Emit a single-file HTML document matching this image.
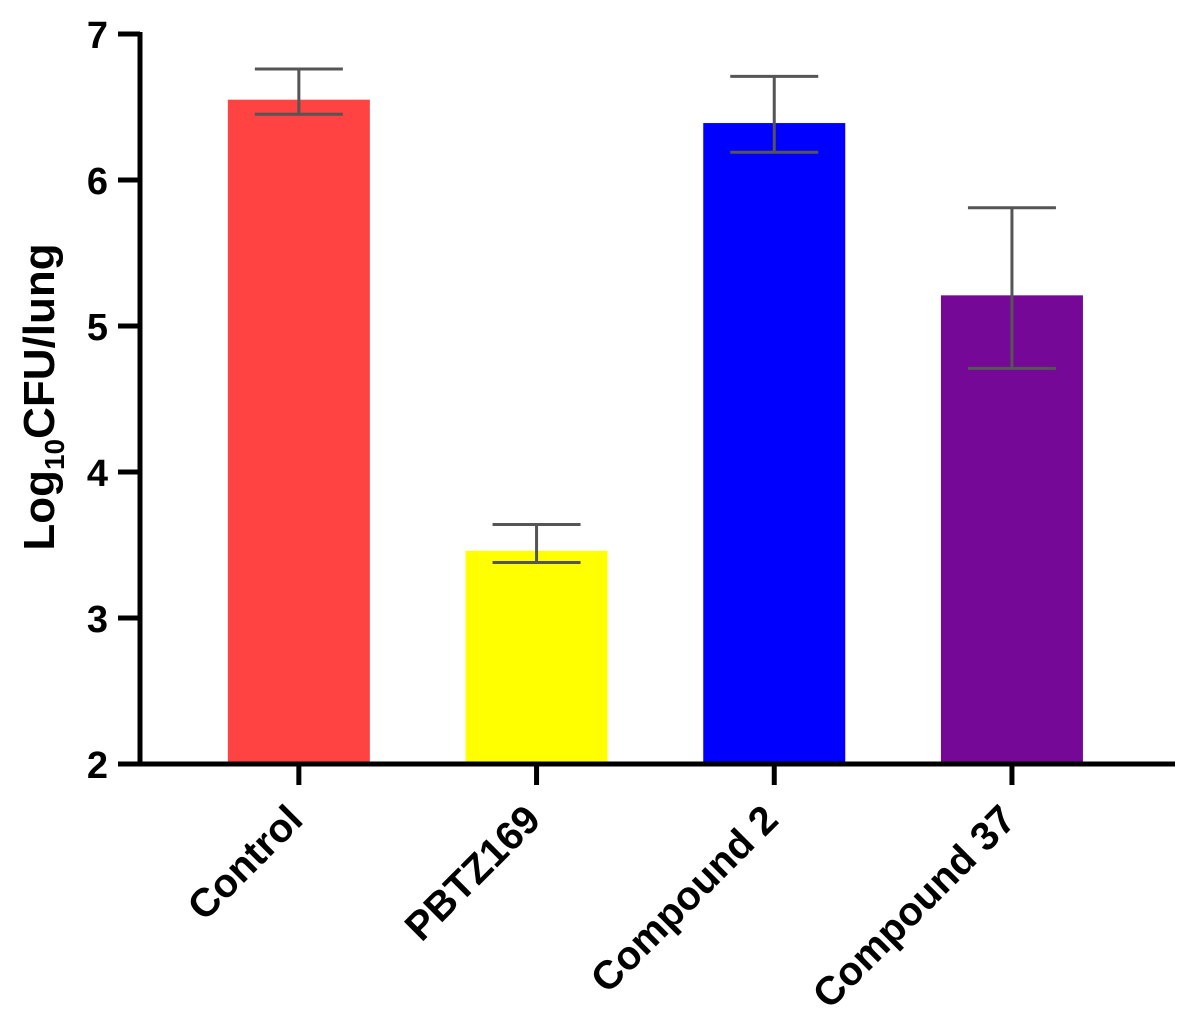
<!DOCTYPE html>
<html><head><meta charset="utf-8"><style>
body{margin:0;background:#fff;width:1191px;height:1030px;overflow:hidden}
text{font-family:"Liberation Sans",Arial,sans-serif;font-weight:bold;fill:#000}
</style></head><body>
<svg id="chart" width="1191" height="1030" xmlns="http://www.w3.org/2000/svg"></svg>
<script>
const categories=["Control","PBTZ169","Compound 2","Compound 37"];
const values=[6.55,3.46,6.39,5.21];
const errLow=[6.45,3.38,6.19,4.71];
const errHigh=[6.76,3.64,6.71,5.81];
const colors=["#ff4242","#ffff00","#0000ff","#750896"];
const yTicks=[2,3,4,5,6,7];

const svg=document.getElementById('chart');
const NS="http://www.w3.org/2000/svg";
const x0=140,x1=1175,yTop=34,yBot=764,yMin=2,yMax=7;
const y=v=>yBot-(v-yMin)/(yMax-yMin)*(yBot-yTop);
const band=237.7;
const xc=i=>180+band*(i+0.5);
const bw=142;
function el(tag,attrs,txt){const e=document.createElementNS(NS,tag);for(const k in attrs)e.setAttribute(k,attrs[k]);if(txt!=null)e.textContent=txt;svg.appendChild(e);return e;}

categories.forEach((c,i)=>{
  const cx=xc(i);
  const b=el('rect',{x:cx-bw/2,y:y(values[i]),width:bw,height:yBot-y(values[i]),fill:colors[i]});
  
  
  const g=el('path',{d:`M${cx},${y(errLow[i])}V${y(errHigh[i])}M${cx-44},${y(errHigh[i])}H${cx+44}M${cx-44},${y(errLow[i])}H${cx+44}`,stroke:'#555',"stroke-width":3,fill:'none'});
  
  
  const t=el('path',{d:`M${cx},${yBot}V${yBot+21}`,stroke:'#000',"stroke-width":5});
  
  
  const lx=cx+6,ly=yBot+58;
  const l=el('text',{x:lx,y:ly,"font-size":40,"text-anchor":'end',transform:`rotate(-45 ${lx} ${ly})`},c);
  
  
});
yTicks.forEach(v=>{
  const t=el('path',{d:`M${x0-22},${y(v)}H${x0}`,stroke:'#000',"stroke-width":5});
  
  
  const l=el('text',{x:108,y:y(v)+14,"font-size":38,"text-anchor":'end'},v);
  
  
});
const ax=el('path',{d:`M${x0},${yTop-2}V${yBot}H${x1}`,stroke:'#000',"stroke-width":5,fill:'none'});


const yt=el('text',{x:54,y:397,"font-size":44,"text-anchor":'middle',transform:'rotate(-90 54 397)'});


yt.innerHTML='Log<tspan font-size="28" dy="10">10</tspan><tspan dy="-10">CFU/lung</tspan>';
</script>
</body></html>
